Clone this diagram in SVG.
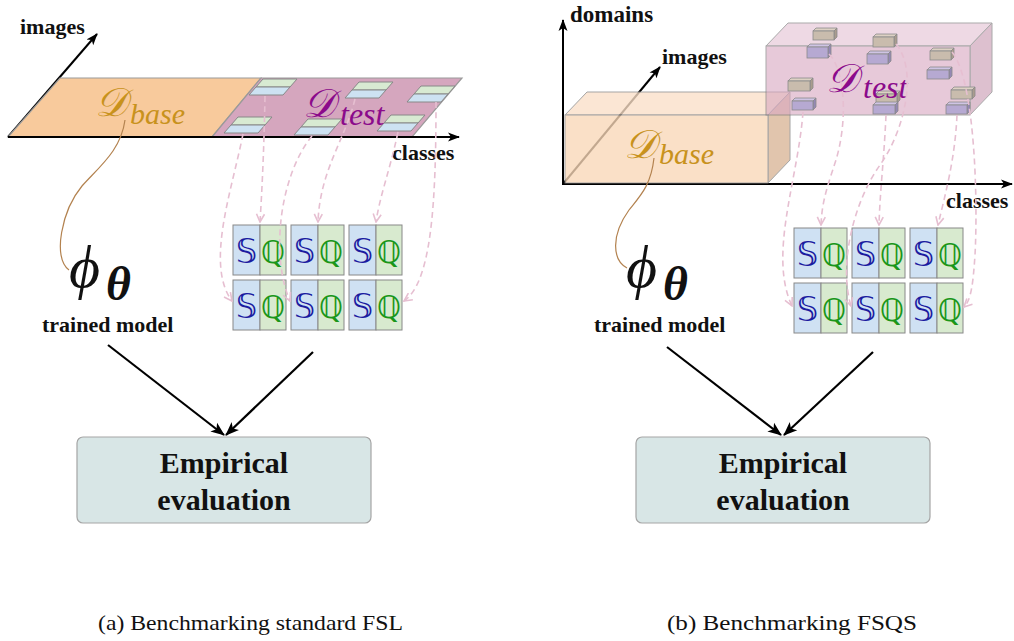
<svg xmlns="http://www.w3.org/2000/svg" width="1014" height="641" viewBox="0 0 1014 641">
<style>
.lbl{font-family:"Liberation Serif",serif;font-weight:bold;fill:#111}
.cap{font-family:"Liberation Serif",serif;fill:#111;font-size:22px}
.ev{font-family:"Liberation Serif",serif;font-weight:bold;font-size:30px;fill:#111;text-anchor:middle}
.axis{stroke:#000;stroke-width:2;fill:none}
.dash{stroke:#e6bfd1;stroke-width:1.6;fill:none;stroke-dasharray:6 4}
.big{stroke:#000;stroke-width:2.2;fill:none}
.sb{fill:#cfe1f3;stroke:#888;stroke-width:1}
.qb{fill:#d8eacf;stroke:#888;stroke-width:1}
.sl{font-family:"DejaVu Sans",sans-serif;font-size:34px;fill:#1b1ba0;text-anchor:middle}
.ql{font-family:"DejaVu Sans",sans-serif;font-size:31px;fill:#1a961a;text-anchor:middle}
.tg{fill:#d8ead2;stroke:#888;stroke-width:1}
.tb{fill:#cde2f2;stroke:#888;stroke-width:1}
.cal{font-family:"DejaVu Serif","Liberation Serif",serif;font-style:italic}
.sub{font-family:"Liberation Serif",serif;font-style:italic}
.evb{fill:#d8e6e6;stroke:#a5a5a5;stroke-width:1.2}
.tanf{fill:#c9bcad;stroke:#8a8a8a;stroke-width:0.8}
.tant{fill:#ddd1c4;stroke:#8a8a8a;stroke-width:0.8}
.tans{fill:#a99c8e;stroke:#8a8a8a;stroke-width:0.8}
.lavf{fill:#b6a9d2;stroke:#8a8a8a;stroke-width:0.8}
.lavt{fill:#cfc4e4;stroke:#8a8a8a;stroke-width:0.8}
.lavs{fill:#9488b4;stroke:#8a8a8a;stroke-width:0.8}
.phi{font-family:"Liberation Serif","DejaVu Serif",serif;font-style:italic;font-size:60px;fill:#111}
.th{font-family:"Liberation Serif",serif;font-style:italic;font-weight:bold;font-size:48px;fill:#111}
</style>
<defs>
<marker id="ah" viewBox="0 0 12 10" refX="11" refY="5" markerWidth="12" markerHeight="10" markerUnits="userSpaceOnUse" orient="auto">
<path d="M0,0.5 L12,5 L0,9.5 L3,5 z" fill="#000"/>
</marker>
<marker id="ahb" viewBox="0 0 14 12" refX="13" refY="6" markerWidth="14" markerHeight="12" markerUnits="userSpaceOnUse" orient="auto">
<path d="M0,0.5 L14,6 L0,11.5 L3.5,6 z" fill="#000"/>
</marker>
<marker id="pa" viewBox="0 0 10 10" refX="9" refY="5" markerWidth="10" markerHeight="10" markerUnits="userSpaceOnUse" orient="auto">
<path d="M1,1 L9,5 L1,9" fill="none" stroke="#e6bfd1" stroke-width="1.6"/>
</marker>
</defs>
<rect width="1014" height="641" fill="#fff"/>

<!-- ===== Panel (a) ===== -->
<g id="a-axes">
<line class="axis" x1="8" y1="137" x2="97" y2="34" marker-end="url(#ah)"/>
</g>
<g id="a-plane">
<path d="M60,78 L261,78 L212,137 L8,137 Z" fill="#f8ca9c" stroke="#9a9a9a" stroke-width="1.2"/>
<path d="M261,78 L462,78 L412,137 L212,137 Z" fill="#d5a6be" stroke="#9a9a9a" stroke-width="1.2"/>
</g>
<g id="a-classes-axis">
<line class="axis" x1="8" y1="137" x2="459" y2="137" marker-end="url(#ah)"/>
</g>
<g id="a-tiles">
<path class="tg" d="M263,79 L297,79 L290,87 L256,87 Z"/><path class="tb" d="M256,87 L290,87 L283,95 L249,95 Z"/>
<path class="tg" d="M238,117 L272,117 L265,125 L231,125 Z"/><path class="tb" d="M231,125 L265,125 L258,133 L224,133 Z"/>
<path class="tg" d="M359,82 L393,82 L386,90 L352,90 Z"/><path class="tb" d="M352,90 L386,90 L379,98 L345,98 Z"/>
<path class="tg" d="M308,119 L342,119 L335,127 L301,127 Z"/><path class="tb" d="M301,127 L335,127 L328,135 L294,135 Z"/>
<path class="tg" d="M421,86 L455,86 L448,94 L414,94 Z"/><path class="tb" d="M414,94 L448,94 L441,102 L407,102 Z"/>
<path class="tg" d="M391,115 L425,115 L418,123 L384,123 Z"/><path class="tb" d="M384,123 L418,123 L411,131 L377,131 Z"/>
</g>
<g id="a-labels">
<text class="lbl" x="20" y="34" font-size="22">images</text>
<text class="lbl" x="392" y="160" font-size="22">classes</text>
<text x="95" y="116" class="cal" font-size="40" fill="#c8921c">𝒟</text>
<text x="130" y="124" class="sub" font-size="30" fill="#c8921c">base</text>
<text x="303" y="117" class="cal" font-size="40" fill="#8b0a8b">𝒟</text>
<text x="340" y="125" class="sub" font-size="32" fill="#8b0a8b">test</text>
</g>
<g id="a-sq">
<rect class="sb" x="233" y="225" width="27" height="50"/><rect class="qb" x="260" y="225" width="26" height="50"/>
<rect class="sb" x="291" y="225" width="27" height="50"/><rect class="qb" x="318" y="225" width="26" height="50"/>
<rect class="sb" x="349" y="225" width="27" height="50"/><rect class="qb" x="376" y="225" width="26" height="50"/>
<rect class="sb" x="233" y="280" width="27" height="50"/><rect class="qb" x="260" y="280" width="26" height="50"/>
<rect class="sb" x="291" y="280" width="27" height="50"/><rect class="qb" x="318" y="280" width="26" height="50"/>
<rect class="sb" x="349" y="280" width="27" height="50"/><rect class="qb" x="376" y="280" width="26" height="50"/>
<text class="sl" x="246.5" y="263">𝕊</text><text class="ql" x="273" y="263">ℚ</text>
<text class="sl" x="304.5" y="263">𝕊</text><text class="ql" x="331" y="263">ℚ</text>
<text class="sl" x="362.5" y="263">𝕊</text><text class="ql" x="389" y="263">ℚ</text>
<text class="sl" x="246.5" y="318">𝕊</text><text class="ql" x="273" y="318">ℚ</text>
<text class="sl" x="304.5" y="318">𝕊</text><text class="ql" x="331" y="318">ℚ</text>
<text class="sl" x="362.5" y="318">𝕊</text><text class="ql" x="389" y="318">ℚ</text>
</g>
<g id="a-connectors">
<path class="dash" d="M265,96 C264,150 262,190 260,222" marker-end="url(#pa)"/>
<path class="dash" d="M243,134 C232,190 205,265 232,301" marker-end="url(#pa)"/>
<path class="dash" d="M355,99 C345,140 320,170 318,222" marker-end="url(#pa)"/>
<path class="dash" d="M312,136 C280,175 270,255 290,301" marker-end="url(#pa)"/>
<path class="dash" d="M436,102 C436,200 432,282 404,301" marker-end="url(#pa)"/>
<path class="dash" d="M398,132 C390,170 380,195 376,222" marker-end="url(#pa)"/>
<path d="M125,120 C121,150 100,166 82,186 C62,210 52,258 69,270" fill="none" stroke="#b3824f" stroke-width="1.2"/>
<path class="big" d="M108,345 L224,435" marker-end="url(#ahb)"/>
<path class="big" d="M313,352 L226,435" marker-end="url(#ahb)"/>
</g>
<g id="a-model">
<text x="69" y="287" class="phi">ϕ</text>
<text x="106" y="300" class="th">θ</text>
<text class="lbl" x="42" y="332" font-size="22">trained model</text>
</g>
<g id="a-eval">
<rect class="evb" x="77" y="437" width="294" height="86" rx="6"/>
<text class="ev" x="224" y="473">Empirical</text>
<text class="ev" x="224" y="510">evaluation</text>
</g>
<text class="cap" x="98" y="630" textLength="305" lengthAdjust="spacingAndGlyphs">(a) Benchmarking standard FSL</text>

<!-- ===== Panel (b) ===== -->
<g id="b-axes">
<line class="axis" x1="563" y1="185" x2="563" y2="20" marker-end="url(#ah)"/>
<line class="axis" x1="563" y1="184" x2="660" y2="67" marker-end="url(#ah)"/>
<line class="axis" x1="562" y1="184" x2="1012" y2="184" marker-end="url(#ah)"/>
</g>
<g id="b-base" opacity="0.78">
<path d="M565,115 L587,92 L790,92 L768,115 Z" fill="#fbe0c8" stroke="#8c8c8c" stroke-width="1"/>
<path d="M768,115 L790,92 L790,160 L768,183 Z" fill="#d9b697" stroke="#8c8c8c" stroke-width="1"/>
<rect x="565" y="115" width="203" height="68" fill="#f9d8b8" stroke="#8c8c8c" stroke-width="1"/>
</g>
<g id="b-test">
<g opacity="0.62">
<path d="M766,46 L788,23 L992,23 L970,46 Z" fill="#e4c3d4" stroke="#777" stroke-width="1"/>
<path d="M970,46 L992,23 L992,92 L970,115 Z" fill="#c99bb3" stroke="#777" stroke-width="1"/>
<rect x="766" y="46" width="204" height="69" fill="#d9a9c2" stroke="#777" stroke-width="1"/>
</g>
<g id="b-cubes">
<path class="tant" d="M813,31 L816,28 L837,28 L834,31 Z"/><path class="tans" d="M834,31 L837,28 L837,37 L834,40 Z"/><rect class="tanf" x="813" y="31" width="21" height="9"/>
<path class="tant" d="M873,37 L876,34 L897,34 L894,37 Z"/><path class="tans" d="M894,37 L897,34 L897,44 L894,47 Z"/><rect class="tanf" x="873" y="37" width="21" height="10"/>
<path class="tant" d="M930,51 L933,48 L954,48 L951,51 Z"/><path class="tans" d="M951,51 L954,48 L954,57 L951,60 Z"/><rect class="tanf" x="930" y="51" width="21" height="9"/>
<path class="tant" d="M788,81 L791,78 L813,78 L810,81 Z"/><path class="tans" d="M810,81 L813,78 L813,88 L810,91 Z"/><rect class="tanf" x="788" y="81" width="22" height="10"/>
<path class="tant" d="M876,94 L879,91 L900,91 L897,94 Z"/><path class="tans" d="M897,94 L900,91 L900,100 L897,103 Z"/><rect class="tanf" x="876" y="94" width="21" height="9"/>
<path class="tant" d="M951,90 L954,87 L975,87 L972,90 Z"/><path class="tans" d="M972,90 L975,87 L975,96 L972,99 Z"/><rect class="tanf" x="951" y="90" width="21" height="9"/>
<path class="lavt" d="M807,47 L810,44 L831,44 L828,47 Z"/><path class="lavs" d="M828,47 L831,44 L831,55 L828,58 Z"/><rect class="lavf" x="807" y="47" width="21" height="11"/>
<path class="lavt" d="M867,54 L870,51 L891,51 L888,54 Z"/><path class="lavs" d="M888,54 L891,51 L891,61 L888,64 Z"/><rect class="lavf" x="867" y="54" width="21" height="10"/>
<path class="lavt" d="M927,70 L930,67 L952,67 L949,70 Z"/><path class="lavs" d="M949,70 L952,67 L952,76 L949,79 Z"/><rect class="lavf" x="927" y="70" width="22" height="9"/>
<path class="lavt" d="M792,101 L795,98 L816,98 L813,101 Z"/><path class="lavs" d="M813,101 L816,98 L816,107 L813,110 Z"/><rect class="lavf" x="792" y="101" width="21" height="9"/>
<path class="lavt" d="M873,105 L876,102 L898,102 L895,105 Z"/><path class="lavs" d="M895,105 L898,102 L898,111 L895,114 Z"/><rect class="lavf" x="873" y="105" width="22" height="9"/>
<path class="lavt" d="M946,105 L949,102 L970,102 L967,105 Z"/><path class="lavs" d="M967,105 L970,102 L970,111 L967,114 Z"/><rect class="lavf" x="946" y="105" width="21" height="9"/>
</g>
</g>
<g id="b-labels">
<text class="lbl" x="570" y="22" font-size="23">domains</text>
<text class="lbl" x="662" y="64" font-size="22">images</text>
<text class="lbl" x="946" y="208" font-size="22">classes</text>
<text x="624" y="158" class="cal" font-size="40" fill="#c8921c">𝒟</text>
<text x="659" y="164" class="sub" font-size="30" fill="#c8921c">base</text>
<text x="826" y="92" class="cal" font-size="40" fill="#8b0a8b">𝒟</text>
<text x="863" y="98" class="sub" font-size="32" fill="#8b0a8b">test</text>
</g>
<g id="b-sq">
<rect class="sb" x="794" y="228" width="27" height="50"/><rect class="qb" x="821" y="228" width="26" height="50"/>
<rect class="sb" x="852" y="228" width="27" height="50"/><rect class="qb" x="879" y="228" width="26" height="50"/>
<rect class="sb" x="910" y="228" width="27" height="50"/><rect class="qb" x="937" y="228" width="26" height="50"/>
<rect class="sb" x="794" y="283" width="27" height="50"/><rect class="qb" x="821" y="283" width="26" height="50"/>
<rect class="sb" x="852" y="283" width="27" height="50"/><rect class="qb" x="879" y="283" width="26" height="50"/>
<rect class="sb" x="910" y="283" width="27" height="50"/><rect class="qb" x="937" y="283" width="26" height="50"/>
<text class="sl" x="807.5" y="266">𝕊</text><text class="ql" x="834" y="266">ℚ</text>
<text class="sl" x="865.5" y="266">𝕊</text><text class="ql" x="892" y="266">ℚ</text>
<text class="sl" x="923.5" y="266">𝕊</text><text class="ql" x="950" y="266">ℚ</text>
<text class="sl" x="807.5" y="321">𝕊</text><text class="ql" x="834" y="321">ℚ</text>
<text class="sl" x="865.5" y="321">𝕊</text><text class="ql" x="892" y="321">ℚ</text>
<text class="sl" x="923.5" y="321">𝕊</text><text class="ql" x="950" y="321">ℚ</text>
</g>
<g id="b-connectors">
<path class="dash" d="M803,112 C798,180 768,255 792,306" marker-end="url(#pa)"/>
<path class="dash" d="M829,54 C845,70 848,120 836,160 C828,185 822,200 821,225" marker-end="url(#pa)"/>
<path class="dash" d="M886,115 C884,160 880,190 879,225" marker-end="url(#pa)"/>
<path class="dash" d="M896,44 C918,70 905,130 880,165 C855,200 838,262 851,306" marker-end="url(#pa)"/>
<path class="dash" d="M952,52 C975,80 978,200 975,255 C973,285 971,300 964,307" marker-end="url(#pa)"/>
<path class="dash" d="M957,115 C955,160 945,195 938,225" marker-end="url(#pa)"/>
<path d="M654,158 C651,185 641,195 629,210 C611,235 612,260 627,268" fill="none" stroke="#b3824f" stroke-width="1.2"/>
<path class="big" d="M667,347 L781,435" marker-end="url(#ahb)"/>
<path class="big" d="M873,352 L784,435" marker-end="url(#ahb)"/>
</g>
<g id="b-model">
<text x="626" y="287" class="phi">ϕ</text>
<text x="663" y="300" class="th">θ</text>
<text class="lbl" x="594" y="332" font-size="22">trained model</text>
</g>
<g id="b-eval">
<rect class="evb" x="636" y="437" width="294" height="86" rx="6"/>
<text class="ev" x="783" y="473">Empirical</text>
<text class="ev" x="783" y="510">evaluation</text>
</g>
<text class="cap" x="667" y="630" textLength="250" lengthAdjust="spacingAndGlyphs">(b) Benchmarking FSQS</text>
</svg>
